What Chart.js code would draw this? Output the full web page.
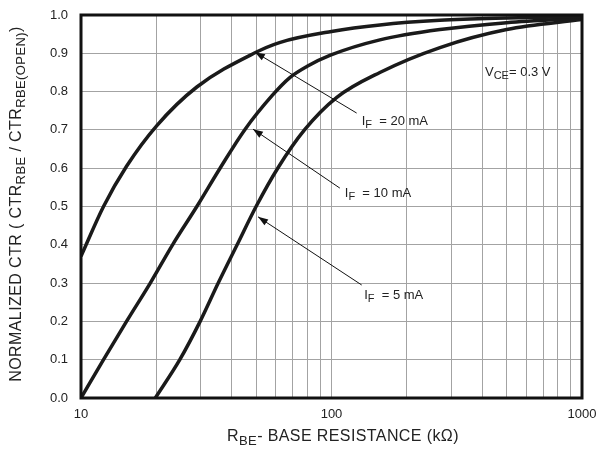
<!DOCTYPE html>
<html>
<head>
<meta charset="utf-8">
<script src="https://cdn.jsdelivr.net/npm/chart.js@4.4.1/dist/chart.umd.min.js"></script>
<style>
  body { margin: 0; background: #fff; }
  #wrap { width: 598px; height: 449px; }
</style>
</head>
<body>
<div id="wrap"><canvas id="ctrChart"></canvas></div>
<script>
// R_BE (kOhm) vs normalized CTR
const rbe20 = [10, 12.3, 15.2, 20, 29, 49, 62, 100, 156, 271, 500, 1000];
const ctr20 = [0.37, 0.5, 0.605, 0.71, 0.812, 0.9, 0.928, 0.957, 0.974, 0.986, 0.992, 0.996];

const rbe10 = [10, 12.3, 15.2, 18.9, 23.2, 29, 35.9, 45, 58, 68, 80, 99, 156, 271, 500, 1000];
const ctr10 = [0, 0.1, 0.2, 0.3, 0.4, 0.5, 0.6, 0.7, 0.79, 0.836, 0.866, 0.895, 0.935, 0.962, 0.98, 0.992];

const rbe5 = [19.8, 24.8, 29.9, 35.3, 42, 50, 61, 78, 105, 156, 271, 500, 1000];
const ctr5 = [0, 0.1, 0.2, 0.3, 0.4, 0.5, 0.6, 0.7, 0.785, 0.85, 0.915, 0.962, 0.988];

const seriesNames = ['20 mA', '10 mA', '5 mA'];
const xTickLabels = [10, 100, 1000];
const xGridValues = [10, 20, 30, 40, 50, 60, 70, 80, 90, 100, 200, 300, 400, 500, 600, 700, 800, 900, 1000];

const FONT = "'Liberation Sans', Arial, sans-serif";
const TXT = '#222';

function pts(xs, ys) {
    return xs.map((x, i) => ({x: x, y: ys[i]}));
}

// text with subscript parts
function richWidth(ctx, segs, size, subSize) {
    let w = 0;
    segs.forEach(s => {
        ctx.font = (s.sub ? subSize : size) + 'px ' + FONT;
        w += ctx.measureText(s.t).width;
    });
    return w;
}
function drawRich(ctx, segs, x, y, size, subSize, align, spacing) {
    ctx.save();
    ctx.fillStyle = TXT;
    ctx.textBaseline = 'middle';
    ctx.textAlign = 'left';
    if (spacing) ctx.letterSpacing = spacing + 'px';
    let cx = x;
    if (align === 'center') cx = x - richWidth(ctx, segs, size, subSize) / 2;
    segs.forEach(s => {
        ctx.font = (s.sub ? subSize : size) + 'px ' + FONT;
        ctx.fillText(s.t, cx, s.sub ? y + 4 : y);
        cx += ctx.measureText(s.t).width;
    });
    ctx.restore();
}

// arrow callouts, positions in data units
const callouts = [
    {name: seriesNames[0], tip: [49.5, 0.903], tail: [126, 0.744], at: [132, 0.723]},
    {name: seriesNames[1], tip: [48.6, 0.702], tail: [108, 0.548], at: [113, 0.535]},
    {name: seriesNames[2], tip: [50.9, 0.473], tail: [132, 0.295], at: [135, 0.269]}
];

const decorPlugin = {
    id: 'decor',
    afterDatasetsDraw(chart) {
        const ctx = chart.ctx;
        const xs = chart.scales.x, ys = chart.scales.y;
        const a = chart.chartArea;

        // frame
        ctx.save();
        ctx.strokeStyle = '#111';
        ctx.lineWidth = 3;
        ctx.strokeRect(a.left, a.top, a.right - a.left, a.bottom - a.top);
        ctx.restore();

        callouts.forEach(c => {
            const tx = xs.getPixelForValue(c.tip[0]), ty = ys.getPixelForValue(c.tip[1]);
            const lx = xs.getPixelForValue(c.tail[0]), ly = ys.getPixelForValue(c.tail[1]);
            ctx.save();
            ctx.strokeStyle = '#111';
            ctx.fillStyle = '#111';
            ctx.lineWidth = 1;
            ctx.beginPath();
            ctx.moveTo(lx, ly);
            ctx.lineTo(tx, ty);
            ctx.stroke();
            const ang = Math.atan2(ty - ly, tx - lx);
            const len = 10, half = 3.5;
            ctx.beginPath();
            ctx.moveTo(tx, ty);
            ctx.lineTo(tx - len * Math.cos(ang) + half * Math.sin(ang), ty - len * Math.sin(ang) - half * Math.cos(ang));
            ctx.lineTo(tx - len * Math.cos(ang) - half * Math.sin(ang), ty - len * Math.sin(ang) + half * Math.cos(ang));
            ctx.closePath();
            ctx.fill();
            ctx.restore();
            drawRich(ctx, [{t: 'I'}, {t: 'F', sub: true}, {t: '  = ' + c.name}],
                xs.getPixelForValue(c.at[0]), ys.getPixelForValue(c.at[1]), 13, 11, 'left');
        });

        drawRich(ctx, [{t: 'V'}, {t: 'CE', sub: true}, {t: '= 0.3 V'}],
            xs.getPixelForValue(410), ys.getPixelForValue(0.851), 13, 11, 'left');

        // axis titles
        drawRich(ctx, [{t: 'R'}, {t: 'BE', sub: true}, {t: '- BASE RESISTANCE (k\u03A9)'}],
            343, 437, 16, 13, 'center', 0.4);
        ctx.save();
        ctx.translate(17, 204);
        ctx.rotate(-Math.PI / 2);
        drawRich(ctx, [{t: 'NORMALIZED CTR ( CTR'}, {t: 'RBE', sub: true}, {t: ' / CTR'},
            {t: 'RBE(OPEN)', sub: true}, {t: ')'}], 0, 0, 16, 13, 'center', 0.4);
        ctx.restore();
    }
};

const lineStyle = {
    borderColor: '#1a1a1a',
    borderWidth: 3.5,
    pointRadius: 0,
    fill: false,
    cubicInterpolationMode: 'monotone'
};

new Chart(document.getElementById('ctrChart').getContext('2d'), {
    type: 'line',
    data: {
        datasets: [
            Object.assign({label: seriesNames[0], data: pts(rbe20, ctr20)}, lineStyle),
            Object.assign({label: seriesNames[1], data: pts(rbe10, ctr10)}, lineStyle),
            Object.assign({label: seriesNames[2], data: pts(rbe5, ctr5)}, lineStyle)
        ]
    },
    options: {
        responsive: true,
        maintainAspectRatio: false,
        animation: false,
        layout: { padding: { left: 0, right: 16, top: 15, bottom: 0 } },
        plugins: {
            legend: { display: false },
            tooltip: { enabled: false }
        },
        scales: {
            x: {
                type: 'logarithmic',
                min: 10,
                max: 1000,
                afterBuildTicks: scale => {
                    scale.ticks = xGridValues.map(v => ({value: v}));
                },
                afterFit: scale => {
                    scale.height = 51;
                    scale.paddingLeft = 0;
                    scale.paddingRight = 0;
                },
                grid: { color: '#a3a3a3', lineWidth: 1, drawTicks: false },
                border: { display: false },
                ticks: {
                    autoSkip: false,
                    maxRotation: 0,
                    padding: 9,
                    color: TXT,
                    font: { family: FONT, size: 13 },
                    callback: v => xTickLabels.includes(v) ? String(v) : ''
                }
            },
            y: {
                min: 0,
                max: 1,
                afterFit: scale => {
                    scale.width = 81;
                    scale.paddingTop = 0;
                    scale.paddingBottom = 0;
                },
                grid: { color: '#a3a3a3', lineWidth: 1, drawTicks: false },
                border: { display: false },
                ticks: {
                    stepSize: 0.1,
                    padding: 13,
                    color: TXT,
                    font: { family: FONT, size: 13 },
                    callback: v => v.toFixed(1)
                }
            }
        }
    },
    plugins: [decorPlugin]
});
</script>
</body>
</html>
